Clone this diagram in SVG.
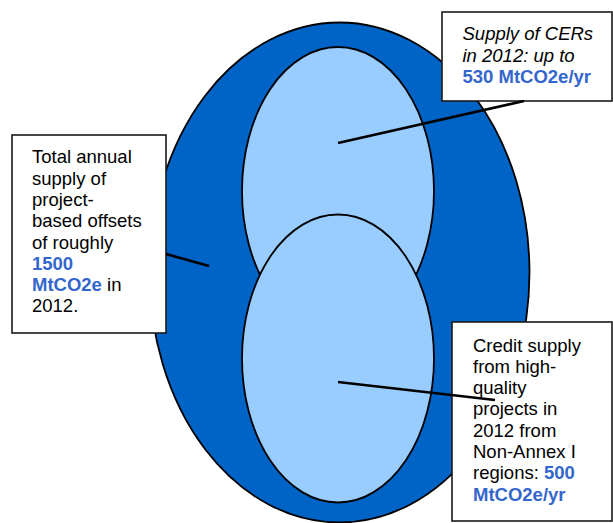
<svg xmlns="http://www.w3.org/2000/svg" width="613" height="523" viewBox="0 0 613 523">
<style>
.box{fill:#fff;stroke:#1a1a1a;stroke-width:1.6}
.t{font-family:"Liberation Sans",Arial,sans-serif;font-size:18.5px;fill:#000}
.b{font-weight:bold;fill:#3366cc}
.conn{stroke:#000;stroke-width:2.6;fill:none}
.ell{stroke:#000;stroke-width:1.8}
</style>
<rect width="613" height="523" fill="#fff"/>
<g id="outer"><ellipse class="ell" cx="339.5" cy="272.5" rx="190" ry="250" fill="#0063c6"/></g>
<g id="upper"><ellipse class="ell" cx="338" cy="191" rx="96" ry="144" fill="#99ccff"/></g>
<g id="lower"><ellipse class="ell" cx="338" cy="358.5" rx="96" ry="144" fill="#99ccff"/></g>
<g id="box-cers">
<rect class="box" x="442" y="12" width="170" height="89"/>
<text class="t" font-style="italic" x="462.5" y="40">Supply of CERs</text>
<text class="t" font-style="italic" x="462.5" y="61.5">in 2012: up to</text>
<text class="t b" x="462.5" y="82.5">530 MtCO2e/yr</text>
</g>
<g id="box-total">
<rect class="box" x="12" y="135" width="154" height="198"/>
<text class="t" x="32" y="163.3">Total annual</text>
<text class="t" x="32" y="184.6">supply of</text>
<text class="t" x="32" y="205.9">project-</text>
<text class="t" x="32" y="227.2">based offsets</text>
<text class="t" x="32" y="248.5">of roughly</text>
<text class="t b" x="32" y="269.8">1500</text>
<text class="t" x="32" y="291.1"><tspan class="b">MtCO2e</tspan> in</text>
<text class="t" x="32" y="312.4">2012.</text>
</g>
<g id="box-credit">
<rect class="box" x="452" y="322" width="160" height="199"/>
<text class="t" x="473" y="351.5">Credit supply</text>
<text class="t" x="473" y="372.8">from high-</text>
<text class="t" x="473" y="394.1">quality</text>
<text class="t" x="473" y="415.4">projects in</text>
<text class="t" x="473" y="436.7">2012 from</text>
<text class="t" x="473" y="458">Non-Annex I</text>
<text class="t" x="473" y="479.3">regions: <tspan class="b">500</tspan></text>
<text class="t b" x="473" y="500.6">MtCO2e/yr</text>
</g>
<g id="connectors">
<line class="conn" x1="338" y1="143" x2="524" y2="101"/>
<line class="conn" x1="166" y1="254" x2="209" y2="266"/>
<line class="conn" x1="338" y1="382" x2="495" y2="400"/>
</g>
</svg>
